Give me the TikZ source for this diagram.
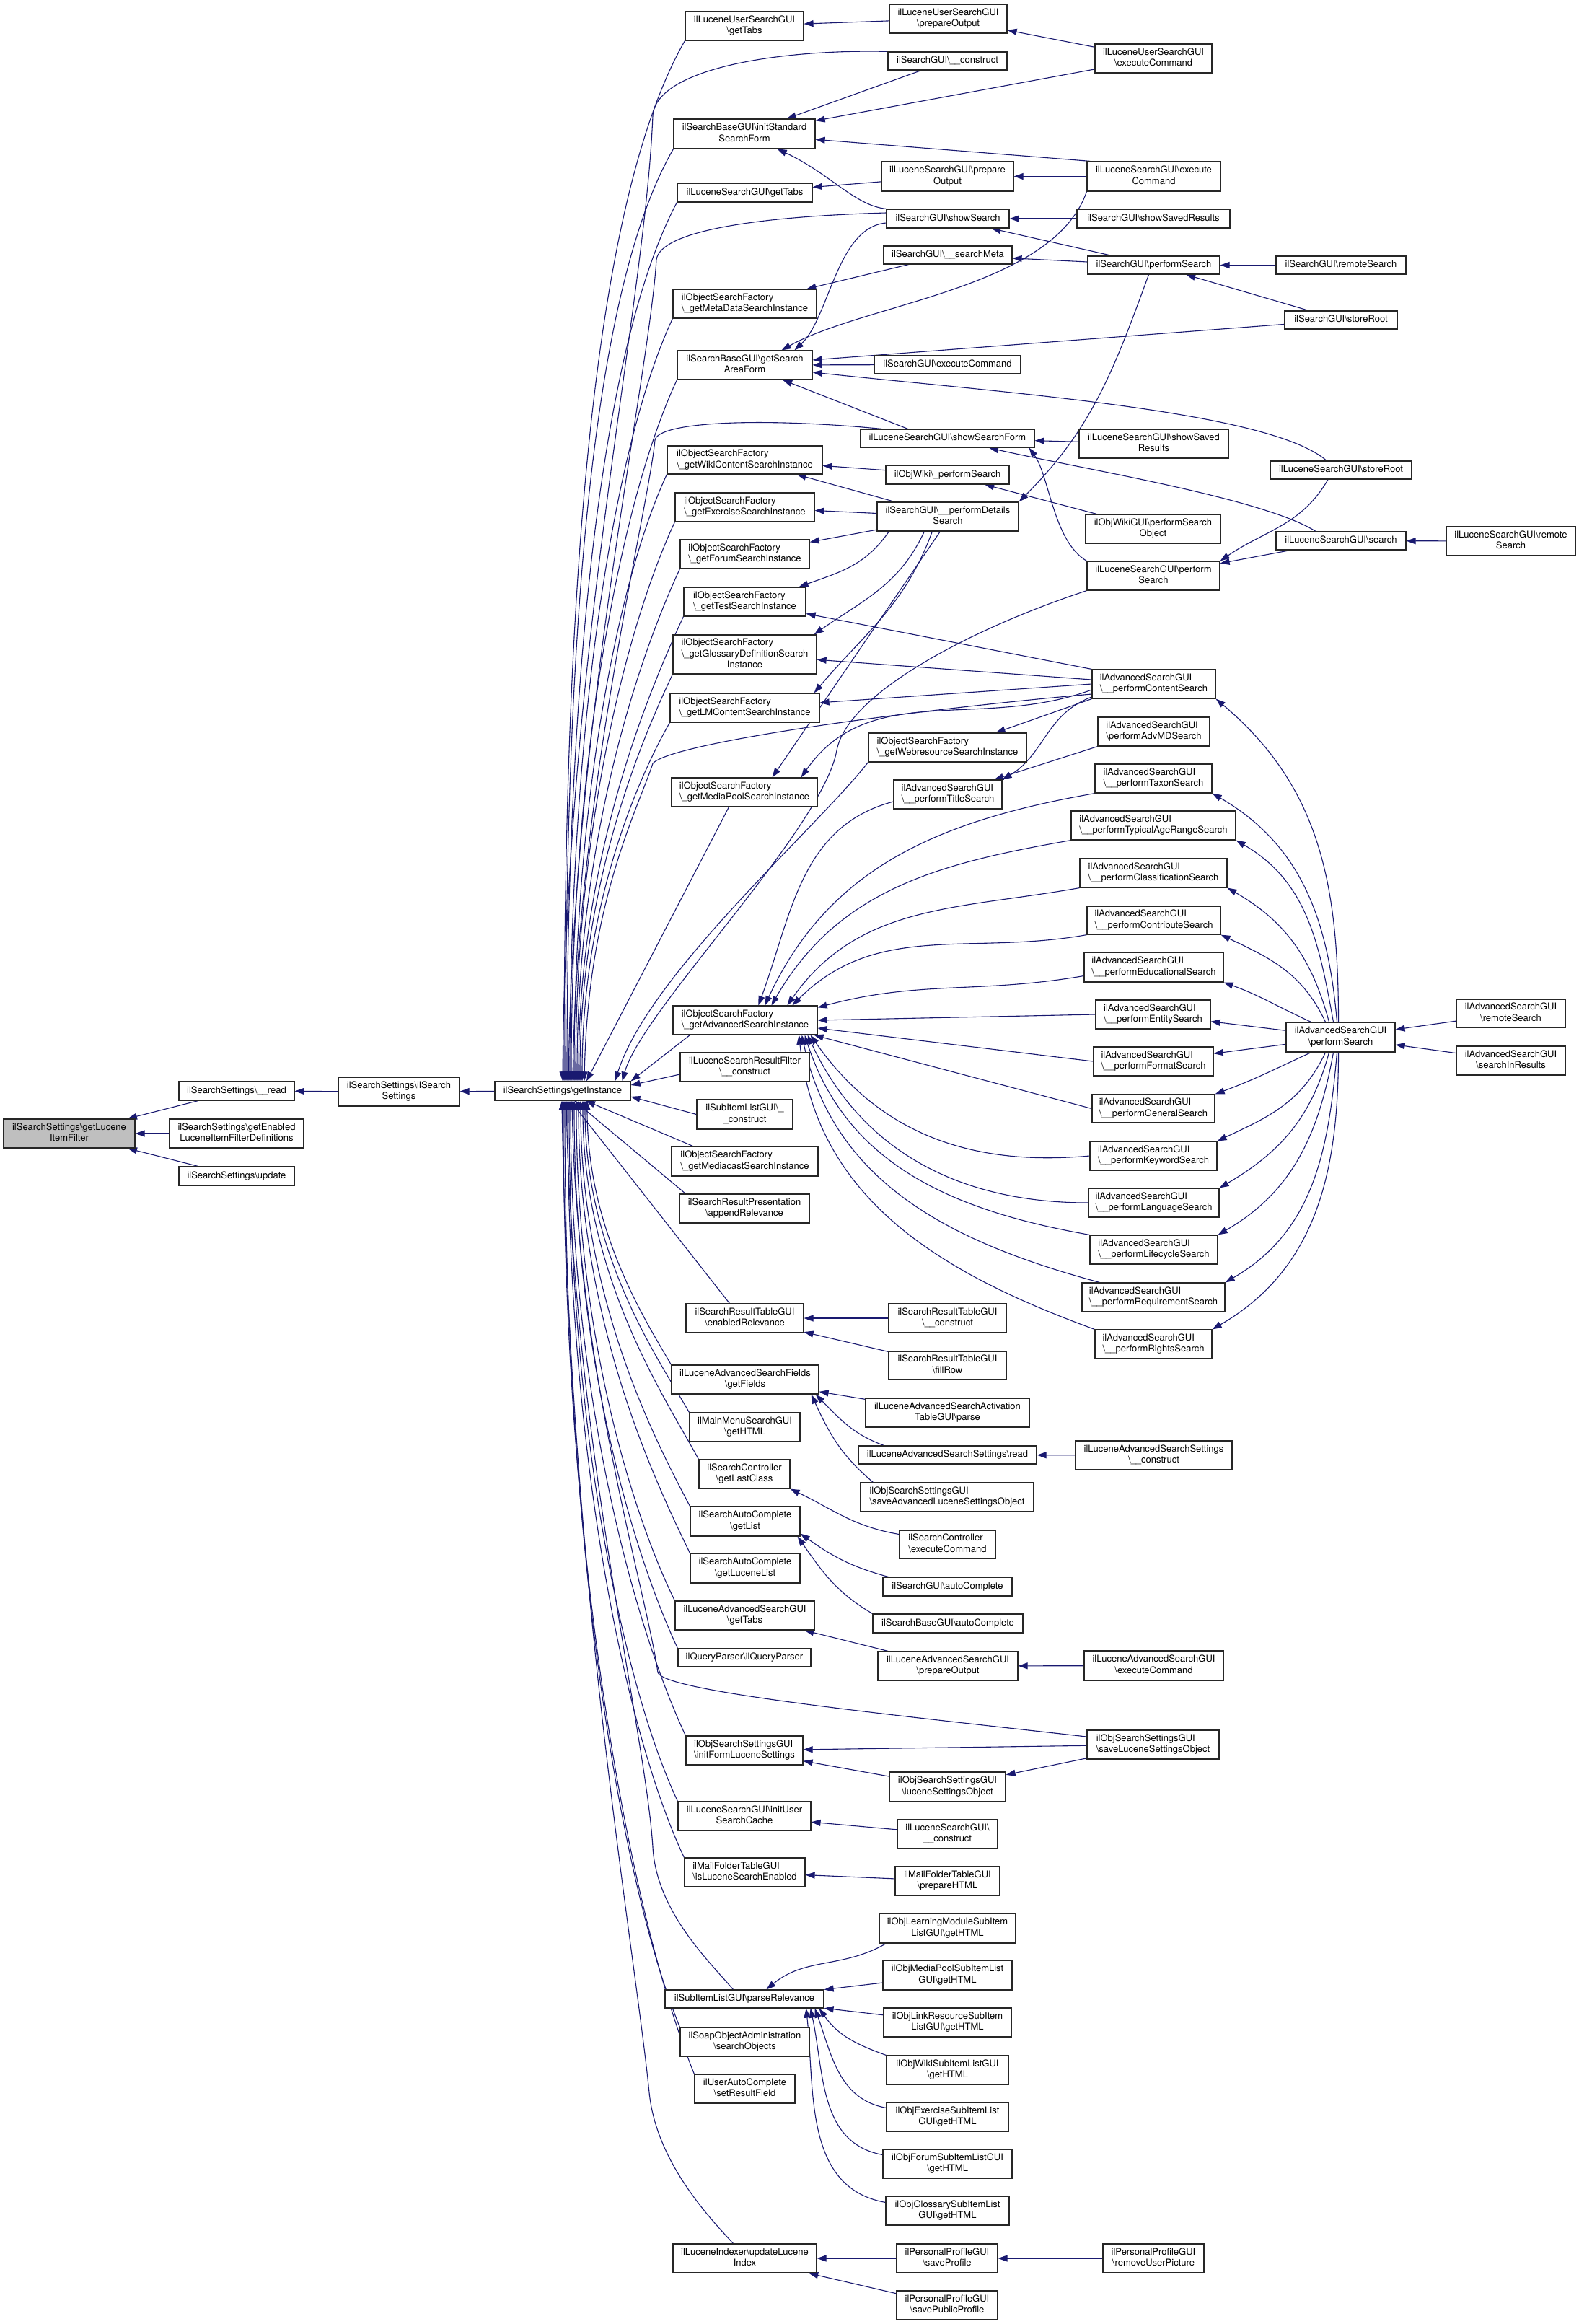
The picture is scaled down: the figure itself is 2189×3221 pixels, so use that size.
\documentclass[tikz,border=0pt]{standalone}
\usepackage{fontspec}
\setmainfont{TeX Gyre Heros}
\usetikzlibrary{arrows.meta}
\pgfdeclarelayer{bg}
\pgfsetlayers{bg,main}
\definecolor{edgec}{HTML}{191970}
\definecolor{rootfill}{HTML}{BFBFBF}
\newcommand\bks{\textbackslash}
\newcommand\myone[1]{\begin{tabular}{@{}c@{}}#1\end{tabular}}
\newcommand\mytwo[2]{\begin{tabular}{@{}l@{}}#1\\\multicolumn{1}{@{}c@{}}{#2}\end{tabular}}
\newcommand\mythree[3]{\begin{tabular}{@{}l@{}}#1\\#2\\\multicolumn{1}{@{}c@{}}{#3}\end{tabular}}
\newcommand\nd[7][]{\node[box,#1,minimum width={#4-#3},minimum height={#6-#5}] (#2) at ({(#3+#4)/2},{(#5+#6)/2}) {#7};}
\newcommand\fanU[5]{\draw[edge] ([xshift=#2]gi.north) .. controls +(0,-#3) and +(#4,#5) .. (#1);}
\newcommand\fanD[5]{\draw[edge] ([xshift=#2]gi.south) .. controls +(0,#3) and +(#4,#5) .. (#1);}
\tikzset{
  box/.style={draw=black!85,line width=1.2pt,fill=white,inner xsep=2pt,inner ysep=0pt,font=\fontsize{13}{15.3}\selectfont},
  edge/.style={draw=edgec,line width=1.1pt,{Triangle[length=13pt,width=9pt]}-},
}
\begin{document}
\begin{tikzpicture}[x=1pt,y=-1pt]
\useasboundingbox (0,0) rectangle (2189,3221);
% ---------- left part
\nd[fill=rootfill]{root}{5}{187}{1551}{1591}{\mytwo{ilSearchSettings\bks getLucene}{ItemFilter}}
\nd{read}{248}{408}{1499}{1525}{\myone{ilSearchSettings\bks\_\_read}}
\nd{gelfd}{235}{421}{1551}{1591}{\mytwo{ilSearchSettings\bks getEnabled}{LuceneItemFilterDefinitions}}
\nd{upd}{248}{408}{1617}{1643}{\myone{ilSearchSettings\bks update}}
\nd{ctor}{469}{637}{1493}{1533}{\mytwo{ilSearchSettings\bks ilSearch}{Settings}}
\nd{gi}{686}{874}{1499}{1525}{\myone{ilSearchSettings\bks getInstance}}
% ---------- column E
\nd{e1}{950}{1114}{16}{56}{\mytwo{ilLuceneUserSearchGUI}{\bks getTabs}}
\nd{e2}{934}{1130}{165}{206}{\mytwo{ilSearchBaseGUI\bks initStandard}{SearchForm}}
\nd{e3}{939}{1126}{254}{280}{\myone{ilLuceneSearchGUI\bks getTabs}}
\nd{e4}{933}{1132}{401}{441}{\mytwo{ilObjectSearchFactory}{\bks\_getMetaDataSearchInstance}}
\nd{e5}{939}{1126}{486}{526}{\mytwo{ilSearchBaseGUI\bks getSearch}{AreaForm}}
\nd{e6}{925}{1140}{618}{657}{\mytwo{ilObjectSearchFactory}{\bks\_getWikiContentSearchInstance}}
\nd{e7}{936}{1129}{683}{723}{\mytwo{ilObjectSearchFactory}{\bks\_getExerciseSearchInstance}}
\nd{e8}{943}{1122}{748}{788}{\mytwo{ilObjectSearchFactory}{\bks\_getForumSearchInstance}}
\nd{e9}{948}{1117}{814}{854}{\mytwo{ilObjectSearchFactory}{\bks\_getTestSearchInstance}}
\nd{e10}{933}{1132}{880}{934}{\mythree{ilObjectSearchFactory}{\bks\_getGlossaryDefinitionSearch}{Instance}}
\nd{e11}{929}{1136}{961}{1001}{\mytwo{ilObjectSearchFactory}{\bks\_getLMContentSearchInstance}}
\nd{e12}{931}{1133}{1078}{1118}{\mytwo{ilObjectSearchFactory}{\bks\_getMediaPoolSearchInstance}}
\nd{e13}{933}{1133}{1394}{1434}{\mytwo{ilObjectSearchFactory}{\bks\_getAdvancedSearchInstance}}
\nd{e14}{943}{1122}{1459}{1499}{\mytwo{ilLuceneSearchResultFilter}{\bks\_\_construct}}
\nd{e15}{966}{1099}{1524}{1565}{\mytwo{ilSubItemListGUI\bks\_}{\_construct}}
\nd{e16}{931}{1134}{1589}{1630}{\mytwo{ilObjectSearchFactory}{\bks\_getMediacastSearchInstance}}
\nd{e17}{942}{1122}{1655}{1695}{\mytwo{ilSearchResultPresentation}{\bks appendRelevance}}
\nd{e18}{951}{1114}{1807}{1847}{\mytwo{ilSearchResultTableGUI}{\bks enabledRelevance}}
\nd{e19}{931}{1135}{1892}{1932}{\mytwo{ilLuceneAdvancedSearchFields}{\bks getFields}}
\nd{e20}{956}{1109}{1958}{1998}{\mytwo{ilMainMenuSearchGUI}{\bks getHTML}}
\nd{e21}{969}{1095}{2023}{2063}{\mytwo{ilSearchController}{\bks getLastClass}}
\nd{e22}{957}{1109}{2088}{2129}{\mytwo{ilSearchAutoComplete}{\bks getList}}
\nd{e23}{957}{1109}{2153}{2194}{\mytwo{ilSearchAutoComplete}{\bks getLuceneList}}
\nd{e24}{936}{1129}{2219}{2259}{\mytwo{ilLuceneAdvancedSearchGUI}{\bks getTabs}}
\nd{e25}{940}{1124}{2285}{2310}{\myone{ilQueryParser\bks ilQueryParser}}
\nd{e26}{951}{1113}{2406}{2446}{\mytwo{ilObjSearchSettingsGUI}{\bks initFormLuceneSettings}}
\nd{e27}{940}{1124}{2497}{2537}{\mytwo{ilLuceneSearchGUI\bks initUser}{SearchCache}}
\nd{e28}{949}{1116}{2575}{2615}{\mytwo{ilMailFolderTableGUI}{\bks isLuceneSearchEnabled}}
\nd{e29}{922}{1142}{2758}{2783}{\myone{ilSubItemListGUI\bks parseRelevance}}
\nd{e30}{943}{1122}{2810}{2850}{\mytwo{ilSoapObjectAdministration}{\bks searchObjects}}
\nd{e31}{963}{1102}{2875}{2915}{\mytwo{ilUserAutoComplete}{\bks setResultField}}
\nd{e32}{933}{1132}{3110}{3150}{\mytwo{ilLuceneIndexer\bks updateLucene}{Index}}
% ---------- column F
\nd{fLusPO}{1233}{1396}{6}{46}{\mytwo{ilLuceneUserSearchGUI}{\bks prepareOutput}}
\nd{fSgc}{1231}{1396}{72}{97}{\myone{ilSearchGUI\bks\_\_construct}}
\nd{fLsPO}{1222}{1405}{224}{265}{\mytwo{ilLuceneSearchGUI\bks prepare}{Output}}
\nd{fSs}{1229}{1399}{290}{316}{\myone{ilSearchGUI\bks showSearch}}
\nd{fSm}{1225}{1403}{341}{366}{\myone{ilSearchGUI\bks\_\_searchMeta}}
\nd{fSec}{1212}{1415}{493}{518}{\myone{ilSearchGUI\bks executeCommand}}
\nd{fSsf}{1193}{1434}{595}{620}{\myone{ilLuceneSearchGUI\bks showSearchForm}}
\nd{fOwps}{1228}{1399}{645}{671}{\myone{ilObjWiki\bks\_performSearch}}
\nd{fPds}{1216}{1412}{696}{736}{\mytwo{ilSearchGUI\bks\_\_performDetails}{Search}}
\nd{fWr}{1204}{1423}{1016}{1056}{\mytwo{ilObjectSearchFactory}{\bks\_getWebresourceSearchInstance}}
\nd{fTs}{1239}{1389}{1081}{1121}{\mytwo{ilAdvancedSearchGUI}{\bks\_\_performTitleSearch}}
\nd{fSrtc}{1232}{1395}{1807}{1847}{\mytwo{ilSearchResultTableGUI}{\bks\_\_construct}}
\nd{fFr}{1232}{1395}{1873}{1912}{\mytwo{ilSearchResultTableGUI}{\bks fillRow}}
\nd{fAtp}{1200}{1427}{1938}{1978}{\mytwo{ilLuceneAdvancedSearchActivation}{TableGUI\bks parse}}
\nd{fLasr}{1190}{1437}{2004}{2029}{\myone{ilLuceneAdvancedSearchSettings\bks read}}
\nd{fSaso}{1193}{1433}{2055}{2095}{\mytwo{ilObjSearchSettingsGUI}{\bks saveAdvancedLuceneSettingsObject}}
\nd{fSce}{1247}{1380}{2121}{2160}{\mytwo{ilSearchController}{\bks executeCommand}}
\nd{fSgac}{1224}{1403}{2186}{2212}{\myone{ilSearchGUI\bks autoComplete}}
\nd{fSbac}{1210}{1418}{2237}{2263}{\myone{ilSearchBaseGUI\bks autoComplete}}
\nd{fLaspo}{1217}{1411}{2289}{2329}{\mytwo{ilLuceneAdvancedSearchGUI}{\bks prepareOutput}}
\nd{fLso}{1233}{1394}{2456}{2497}{\mytwo{ilObjSearchSettingsGUI}{\bks luceneSettingsObject}}
\nd{fLsgc}{1244}{1383}{2522}{2562}{\mytwo{ilLuceneSearchGUI\bks}{\_\_construct}}
\nd{fMph}{1241}{1386}{2587}{2627}{\mytwo{ilMailFolderTableGUI}{\bks prepareHTML}}
\nd{fLm}{1219}{1408}{2652}{2693}{\mytwo{ilObjLearningModuleSubItem}{ListGUI\bks getHTML}}
\nd{fMp}{1224}{1403}{2717}{2758}{\mytwo{ilObjMediaPoolSubItemList}{GUI\bks getHTML}}
\nd{fLr}{1225}{1402}{2783}{2823}{\mytwo{ilObjLinkResourceSubItem}{ListGUI\bks getHTML}}
\nd{fWk}{1229}{1398}{2849}{2889}{\mytwo{ilObjWikiSubItemListGUI}{\bks getHTML}}
\nd{fEx}{1229}{1398}{2914}{2954}{\mytwo{ilObjExerciseSubItemList}{GUI\bks getHTML}}
\nd{fFo}{1224}{1403}{2979}{3019}{\mytwo{ilObjForumSubItemListGUI}{\bks getHTML}}
\nd{fGl}{1228}{1399}{3044}{3084}{\mytwo{ilObjGlossarySubItemList}{GUI\bks getHTML}}
\nd{fSp}{1243}{1383}{3110}{3150}{\mytwo{ilPersonalProfileGUI}{\bks saveProfile}}
\nd{fSpp}{1243}{1383}{3175}{3215}{\mytwo{ilPersonalProfileGUI}{\bks savePublicProfile}}
% ---------- column G
\nd{gLuec}{1518}{1680}{61}{101}{\mytwo{ilLuceneUserSearchGUI}{\bks executeCommand}}
\nd{gLsec}{1507}{1692}{224}{265}{\mytwo{ilLuceneSearchGUI\bks execute}{Command}}
\nd{gSsr}{1493}{1705}{290}{316}{\myone{ilSearchGUI\bks showSavedResults}}
\nd{gSps}{1508}{1691}{355}{380}{\myone{ilSearchGUI\bks performSearch}}
\nd{gLssr}{1496}{1703}{595}{635}{\mytwo{ilLuceneSearchGUI\bks showSaved}{Results}}
\nd{gOwgps}{1505}{1692}{713}{753}{\mytwo{ilObjWikiGUI\bks performSearch}{Object}}
\nd{gLps}{1507}{1691}{778}{818}{\mytwo{ilLuceneSearchGUI\bks perform}{Search}}
\nd{gCs}{1514}{1685}{928}{968}{\mytwo{ilAdvancedSearchGUI}{\bks\_\_performContentSearch}}
\nd{gAmd}{1522}{1677}{994}{1034}{\mytwo{ilAdvancedSearchGUI}{\bks performAdvMDSearch}}
\nd{gTax}{1518}{1680}{1059}{1099}{\mytwo{ilAdvancedSearchGUI}{\bks\_\_performTaxonSearch}}
\nd{gTyp}{1485}{1713}{1124}{1164}{\mytwo{ilAdvancedSearchGUI}{\bks\_\_performTypicalAgeRangeSearch}}
\nd{gCls}{1497}{1701}{1190}{1230}{\mytwo{ilAdvancedSearchGUI}{\bks\_\_performClassificationSearch}}
\nd{gCon}{1507}{1692}{1256}{1295}{\mytwo{ilAdvancedSearchGUI}{\bks\_\_performContributeSearch}}
\nd{gEdu}{1503}{1696}{1320}{1361}{\mytwo{ilAdvancedSearchGUI}{\bks\_\_performEducationalSearch}}
\nd{gEnt}{1519}{1678}{1386}{1426}{\mytwo{ilAdvancedSearchGUI}{\bks\_\_performEntitySearch}}
\nd{gFmt}{1516}{1682}{1451}{1491}{\mytwo{ilAdvancedSearchGUI}{\bks\_\_performFormatSearch}}
\nd{gGen}{1514}{1684}{1517}{1556}{\mytwo{ilAdvancedSearchGUI}{\bks\_\_performGeneralSearch}}
\nd{gKey}{1511}{1687}{1582}{1622}{\mytwo{ilAdvancedSearchGUI}{\bks\_\_performKeywordSearch}}
\nd{gLan}{1509}{1690}{1647}{1687}{\mytwo{ilAdvancedSearchGUI}{\bks\_\_performLanguageSearch}}
\nd{gLif}{1511}{1688}{1712}{1752}{\mytwo{ilAdvancedSearchGUI}{\bks\_\_performLifecycleSearch}}
\nd{gReq}{1500}{1698}{1778}{1818}{\mytwo{ilAdvancedSearchGUI}{\bks\_\_performRequirementSearch}}
\nd{gRig}{1518}{1680}{1843}{1883}{\mytwo{ilAdvancedSearchGUI}{\bks\_\_performRightsSearch}}
\nd{gLasc}{1491}{1708}{1997}{2037}{\mytwo{ilLuceneAdvancedSearchSettings}{\bks\_\_construct}}
\nd{gLasec}{1503}{1696}{2288}{2329}{\mytwo{ilLuceneAdvancedSearchGUI}{\bks executeCommand}}
\nd{gSlso}{1507}{1690}{2398}{2438}{\mytwo{ilObjSearchSettingsGUI}{\bks saveLuceneSettingsObject}}
\nd{gRup}{1529}{1669}{3110}{3150}{\mytwo{ilPersonalProfileGUI}{\bks removeUserPicture}}
% ---------- columns H, I
\nd{hSrs}{1769}{1949}{355}{380}{\myone{ilSearchGUI\bks remoteSearch}}
\nd{hSr}{1781}{1937}{431}{456}{\myone{ilSearchGUI\bks storeRoot}}
\nd{hLsr}{1761}{1957}{639}{664}{\myone{ilLuceneSearchGUI\bks storeRoot}}
\nd{hLs}{1769}{1949}{737}{762}{\myone{ilLuceneSearchGUI\bks search}}
\nd{hAps}{1783}{1934}{1417}{1458}{\mytwo{ilAdvancedSearchGUI}{\bks performSearch}}
\nd{iLrs}{2005}{2184}{730}{770}{\mytwo{ilLuceneSearchGUI\bks remote}{Search}}
\nd{iArs}{2019}{2170}{1385}{1424}{\mytwo{ilAdvancedSearchGUI}{\bks remoteSearch}}
\nd{iAsir}{2019}{2170}{1450}{1490}{\mytwo{ilAdvancedSearchGUI}{\bks searchInResults}}

\begin{pgfonlayer}{bg}
\fill[white] (0,0) rectangle (2189,3221);
% root chain
\draw[edge] (root) -- (read);
\draw[edge] (root) -- (gelfd);
\draw[edge] (root) -- (upd);
\draw[edge] (read) -- (ctor);
\draw[edge] (ctor) -- (gi);
% fan above getInstance
\draw[edge] (gi.north) .. controls (785,900) and (895,420) .. (905,160) .. controls (910,95) and (1080,68) .. (fSgc.north west);
\fanU{e1.south west}{2}{685}{-128}{223}
\fanU{e2.south west}{4}{614}{-115}{199}
\fanU{e3.south west}{6}{579}{-102}{192}
\draw[edge] ([xshift=8]gi.north) .. controls (795,1000) and (900,520) .. (910,360) .. controls (915,320) and (1050,300) .. ([yshift=8]fSs.west);
\fanU{e4.south west}{10}{503}{-80}{171}
\fanU{e5.south west}{12}{464}{-74}{158}
\draw[edge] ([xshift=14]gi.north) .. controls (800,1100) and (900,700) .. (908,610) .. controls (912,585) and (1050,578) .. ([xshift=30]fSsf.north west);
\fanU{e6.south west}{16}{401}{-64}{137}
\fanU{e7.south west}{18}{371}{-59}{126}
\fanU{e8.south west}{20}{342}{-54}{116}
\fanU{e9.south west}{22}{311}{-49}{106}
\fanU{e10.south west}{24}{273}{-44}{93}
\fanU{e11.south west}{27}{242}{-45}{79}
\draw[edge] ([xshift=30]gi.north) .. controls (815,1250) and (885,1120) .. (905,1058) .. controls (930,1030) and (1250,985) .. ([yshift=-14]gCs.west);
\draw[edge] ([xshift=33]gi.north) -- ([xshift=80]e12.south west);
\draw[edge] ([xshift=-22]gi.north east) .. controls (900,1350) and (1130,1150) .. (fWr.south west);
\draw[edge] ([xshift=-12]gi.north east) .. controls (890,1400) and (1140,1150) .. (1160,1040) .. controls (1175,960) and (1350,870) .. (gLps.south west);
\draw[edge] (gi.north east) -- ([xshift=24]e13.south west);
\draw[edge] ([yshift=8]gi.east) -- ([yshift=-10]e14.west);
\draw[edge] ([yshift=-8]gi.east) -- (e15.west);
\draw[edge] (gi) -- ([xshift=30]e16.north west);
\draw[edge] (gi) -- ([xshift=9]e17.north west);
\draw[edge] (gi) -- ([xshift=61]e18.north west);
% fan below getInstance
\fanD{e19.north west}{34}{181}{-34}{-59}
\fanD{e20.north west}{31}{215}{-40}{-70}
\fanD{e21.north west}{28}{246}{-44}{-82}
\fanD{e22.north west}{25}{274}{-48}{-91}
\fanD{e23.north west}{22}{304}{-50}{-103}
\fanD{e24.north west}{19}{333}{-55}{-112}
\fanD{e25.north west}{16}{364}{-58}{-124}
\draw[edge] ([xshift=13]gi.south) .. controls (800,1900) and (895,2200) .. (912,2318) .. controls (920,2345) and (1250,2378) .. ([yshift=11]gSlso.west);
\fanD{e26.north west}{11}{421}{-67}{-143}
\fanD{e27.north west}{9}{462}{-74}{-158}
\fanD{e28.north west}{7}{499}{-80}{-170}
\draw[edge] ([xshift=5]gi.south) .. controls (795,2000) and (895,2400) .. (905,2560) .. controls (910,2650) and (985,2720) .. ([xshift=95]e29.north west);
\fanD{e30.north west}{3}{609}{-86}{-212}
\fanD{e31.north west}{1}{640}{-90}{-223}
\draw[edge] ([xshift=-1]gi.south) .. controls (790,2200) and (880,2700) .. (900,2900) .. controls (910,3000) and (990,3080) .. ([xshift=84]e32.north west);
% top region
\draw[edge] (e1) -- (fLusPO);
\draw[edge] (fLusPO) -- (gLuec);
\draw[edge] (e2) -- (gLuec);
\draw[edge] (e2) -- (fSgc);
\draw[edge] (e2) -- ([xshift=5]gLsec.north west);
\draw[edge] (e2) .. controls (1150,240) and (1185,285) .. (fSs.north west);
\draw[edge] (e3) -- (fLsPO);
\draw[edge] (fLsPO) -- (gLsec);
\draw[edge] (fSs) -- (gSsr);
\draw[edge] (fSs) -- (gSps);
\draw[edge] (fSm) -- (gSps);
\draw[edge] (e4) -- (fSm);
\draw[edge] ([xshift=51]e5.north) .. controls (1200,420) and (1460,400) .. (gLsec.south west);
\draw[edge] ([xshift=69]e5.north) .. controls (1150,440) and (1160,315) .. ([yshift=-6]fSs.west);
\draw[edge] (e5) -- (hSr);
\draw[edge] (e5) -- (fSec);
\draw[edge] (e5) .. controls (1400,545) and (1760,570) .. ([xshift=-20]hLsr.north);
\draw[edge] (e5) -- ([xshift=-55]fSsf.north);
\draw[edge] (fSsf) -- (gLssr);
\draw[edge] ([xshift=-8]fSsf.south east) .. controls (1455,660) and (1460,750) .. (gLps.north west);
\draw[edge] (fSsf) .. controls (1500,650) and (1750,690) .. ([xshift=-35]hLs.north);
\draw[edge] (e6) -- (fOwps);
\draw[edge] (fOwps) -- (gOwgps);
\draw[edge] (e6) -- (fPds);
\draw[edge] (e7) -- (fPds);
\draw[edge] (e8) -- (fPds);
\draw[edge] ([xshift=-10]e9.north east) .. controls +(55,-20) and +(-33,48) .. ([xshift=17]fPds.south west);
\draw[edge] ([xshift=-4]e10.north east) .. controls +(68,-48) and +(-35,75) .. ([xshift=66]fPds.south west);
\draw[edge] ([xshift=-8]e11.north east) .. controls +(71,-84) and +(-38,103) .. ([xshift=77]fPds.south west);
\draw[edge] ([xshift=-63]e12.north east) -- ([xshift=88]fPds.south west);
\draw[edge] (fPds.north east) .. controls +(101,-101) and +(-49,134) .. ([xshift=-7]gSps.south);
\draw[edge] (gSps) -- (hSrs);
\draw[edge] (gSps) -- (hSr);
\draw[edge] (gLps) -- (hLs);
\draw[edge] (gLps.north east) .. controls +(61,-42) and +(-37,64) .. ([xshift=-18]hLsr.south);
\draw[edge] (hLs) -- (iLrs);
% content search
\draw[edge] (e9) -- (gCs.north west);
\draw[edge] (e10) -- ([yshift=6]gCs.west);
\draw[edge] (e11) -- (gCs.west);
\draw[edge] ([xshift=-23]e12.north east) .. controls +(95,-136) and +(-156,57) .. ([yshift=-8]gCs.west);
\draw[edge] ([xshift=-43]fWr.north east) -- (gCs.south west);
\draw[edge] (fTs.north east) .. controls +(58,-34) and +(-63,23) .. ([yshift=-18]gCs.west);
\draw[edge] (fTs) -- (gAmd.south west);
% advanced search instance
\draw[edge] ([xshift=119]e13.north west) .. controls +(46,-125) and +(-129,34) .. ([yshift=-10]fTs.west);
\draw[edge] ([xshift=128]e13.north west) .. controls +(90,-194) and +(-211,37) .. (gTax.south west);
\draw[edge] ([xshift=137]e13.north west) .. controls +(93,-161) and +(-183,32) .. (gTyp.south west);
\draw[edge] ([xshift=159]e13.north west) .. controls +(99,-141) and +(-169,30) .. (gCls.south west);
\draw[edge] ([xshift=166]e13.north west) .. controls +(117,-117) and +(-162,29) .. (gCon.south west);
\draw[edge] ([yshift=-3]e13.north east) .. controls +(141,-38) and +(-144,25) .. ([yshift=-12]gEdu.west);
\draw[edge] (e13.east) -- (gEnt.west);
\draw[edge] ([yshift=-11]e13.east) -- (gFmt.west);
\draw[edge] ([xshift=-5]e13.south east) -- (gGen.west);
\draw[edge] ([xshift=-10]e13.south east) .. controls +(95,136) and +(-165,15) .. (gKey.west);
\draw[edge] ([xshift=-14]e13.south east) .. controls +(75,161) and +(-178,0) .. (gLan.west);
\draw[edge] ([xshift=-18]e13.south east) .. controls +(59,181) and +(-187,-33) .. (gLif.north west);
\draw[edge] ([xshift=-22]e13.south east) .. controls +(44,206) and +(-204,-55) .. ([xshift=25]gReq.north west);
\draw[edge] ([xshift=-26]e13.south east) .. controls +(24,227) and +(-214,-78) .. (gRig.north west);
% advanced performSearch
\draw[edge] (gCs.south east) .. controls +(145,122) and +(0,-189) .. ([xshift=-3]hAps.north);
\draw[edge] (gTax.south east) .. controls +(123,71) and +(-12,-142) .. ([xshift=-5]hAps.north);
\draw[edge] (gTyp.south east) .. controls +(98,57) and +(-20,-111) .. ([xshift=-10]hAps.north);
\draw[edge] (gCls.south east) .. controls +(80,46) and +(-24,-89) .. ([xshift=-16]hAps.north);
\draw[edge] (gCon.south east) .. controls +(68,32) and +(-32,-68) .. ([xshift=-21]hAps.north);
\draw[edge] (gEdu.south east) .. controls +(50,18) and +(-48,-22) .. ([xshift=-41]hAps.north);
\draw[edge] (gEnt) -- (hAps);
\draw[edge] (gFmt) -- (hAps);
\draw[edge] (gGen.north east) .. controls +(54,-20) and +(-52,24) .. ([xshift=-41]hAps.south);
\draw[edge] (gKey.north east) .. controls +(70,-33) and +(-33,70) .. ([xshift=-21]hAps.south);
\draw[edge] (gLan.north east) .. controls +(82,-48) and +(-25,92) .. ([xshift=-16]hAps.south);
\draw[edge] (gLif.north east) .. controls +(102,-59) and +(-21,116) .. ([xshift=-10]hAps.south);
\draw[edge] (gReq.north east) .. controls +(121,-70) and +(-12,140) .. ([xshift=-5]hAps.south);
\draw[edge] (gRig.north east) .. controls +(144,-83) and +(0,166) .. ([xshift=-3]hAps.south);
\draw[edge] (hAps) -- (iArs);
\draw[edge] (hAps) -- (iAsir);
% lower region
\draw[edge] (e18) -- (fSrtc);
\draw[edge] (e18) -- (fFr);
\draw[edge] (e19) -- (fAtp);
\draw[edge] ([xshift=-5]e19.south east) .. controls +(33,33) and +(-44,-16) .. ([xshift=36]fLasr.north west);
\draw[edge] ([xshift=-11]e19.south east) .. controls +(25,54) and +(-45,-38) .. ([xshift=18]fSaso.north west);
\draw[edge] (fLasr) -- (gLasc);
\draw[edge] (e21.south east) .. controls +(59,28) and +(-64,-11) .. ([yshift=14]fSce.west);
\draw[edge] ([yshift=4]e22.south east) .. controls +(44,31) and +(-52,-14) .. ([xshift=8]fSgac.north west);
\draw[edge] ([xshift=-4]e22.south east) .. controls +(34,48) and +(-51,-30) .. (fSbac.north west);
\draw[edge] (e24) -- (fLaspo);
\draw[edge] (fLaspo) -- (gLasec);
\draw[edge] (e26) -- (gSlso);
\draw[edge] (e26) -- (fLso);
\draw[edge] (fLso) -- (gSlso);
\draw[edge] (e27) -- (fLsgc);
\draw[edge] (e28) -- (fMph);
\draw[edge] ([xshift=141]e29.north west) .. controls +(54,-45) and +(-61,35) .. ([xshift=10]fLm.south west);
\draw[edge] (e29) -- (fMp);
\draw[edge] (e29) -- (fLr);
\draw[edge] ([xshift=-7]e29.south east) .. controls +(26,37) and +(-42,-15) .. (fWk.north west);
\draw[edge] ([xshift=-13]e29.south east) .. controls +(23,63) and +(-66,-12) .. ([yshift=-8]fEx.north west);
\draw[edge] ([xshift=-19]e29.south east) .. controls +(19,88) and +(-88,-16) .. ([yshift=-8]fFo.north west);
\draw[edge] ([xshift=-25]e29.south east) .. controls +(12,114) and +(-113,-20) .. ([yshift=-9]fGl.north west);
\draw[edge] (e32) -- (fSp);
\draw[edge] (fSp) -- (gRup);
\draw[edge] (e32) -- (fSpp);
\end{pgfonlayer}
\end{tikzpicture}
\end{document}
